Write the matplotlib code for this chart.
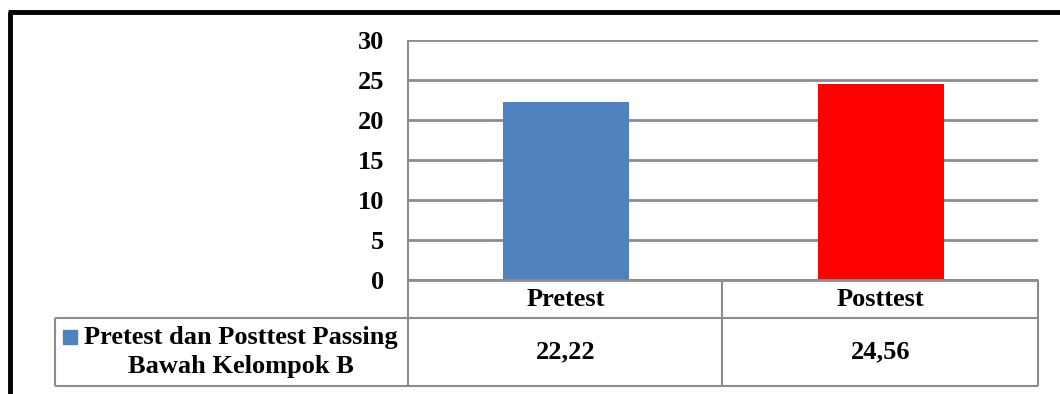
import matplotlib.pyplot as plt
from matplotlib.lines import Line2D
from matplotlib.patches import Rectangle

plt.rcParams["font.family"] = ["Liberation Serif", "DejaVu Serif"]
plt.rcParams["font.weight"] = "bold"

categories = ["Pretest", "Posttest"]
values = [22.22, 24.56]
bar_colors = ["#4f81bd", "#ff0000"]
series_name = "Pretest dan Posttest Passing\nBawah Kelompok B"
yticks = [0, 5, 10, 15, 20, 25, 30]

W, H = 1060, 394
fs = 19
fig = plt.figure(figsize=(W / 100, H / 100), dpi=100)


def fx(x):
    return x / W


def fy(y):
    return 1 - y / H


def pline(x0, y0, x1, y1, color="#8c8c8c", lw=1.5):
    fig.add_artist(Line2D([fx(x0), fx(x1)], [fy(y0), fy(y1)], color=color, lw=lw,
                          solid_capstyle="butt"))


# plot area
ax = fig.add_axes([fx(408), fy(280), fx(1038) - fx(408), fy(40) - fy(280)])
x = list(range(len(categories)))
ax.bar(x, values, width=0.4, color=bar_colors, zorder=3)
ax.set_xlim(-0.5, 1.5)
ax.set_ylim(0, 30)
ax.set_yticks(yticks)
ax.set_yticklabels([str(t) for t in yticks], fontsize=fs, fontweight="bold")
ax.tick_params(axis="y", length=0, pad=17)
ax.set_xticks([])
ax.grid(axis="y", color="#8c8c8c", lw=2, zorder=0)
for s in ["top", "right", "bottom", "left"]:
    ax.spines[s].set_visible(False)

# data table below the axis
pline(408, 40, 408, 386)
pline(408, 280, 1038, 280, lw=2)
pline(55, 318, 1038, 318)
pline(55, 386, 1038, 386)
pline(55, 318, 55, 386)
pline(722, 280, 722, 386)
pline(1038, 280, 1038, 386)

col_w = (1038 - 408) / len(categories)
for i, (c, v) in enumerate(zip(categories, values)):
    cx = 408 + col_w * (i + 0.5)
    fig.text(fx(cx), fy(299), c, ha="center", va="center", fontsize=fs, fontweight="bold")
    fig.text(fx(cx), fy(352), f"{v:.2f}".replace(".", ","), ha="center", va="center",
             fontsize=fs, fontweight="bold")

fig.add_artist(Rectangle((fx(63), fy(344)), fx(14), fy(330) - fy(344), color=bar_colors[0]))
fig.text(fx(241), fy(352), series_name, ha="center", va="center", multialignment="center",
         fontsize=fs, fontweight="bold", linespacing=1.3)

# outer frame (left and top)
pline(10, 12, 10, 394, color="black", lw=3.5)
pline(8, 12, 1060, 12, color="black", lw=3.5)

fig.savefig("out.png", dpi=100)
